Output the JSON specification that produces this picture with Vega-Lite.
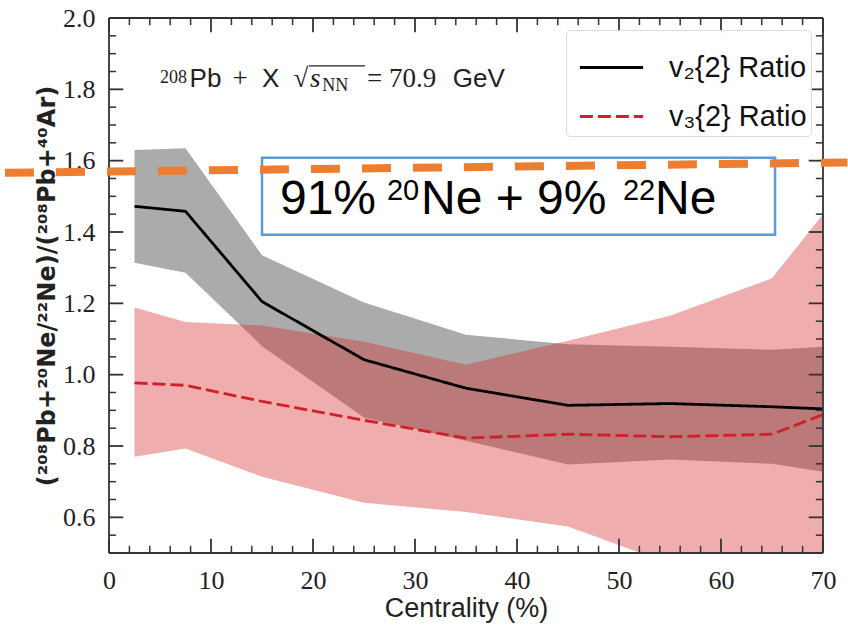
{
  "$schema": "https://vega.github.io/schema/vega-lite/v6.json",
  "width": 714,
  "height": 535,
  "autosize": "none",
  "padding": {"left": 109, "top": 18, "right": 25, "bottom": 78},
  "background": "white",
  "config": {
    "view": {"stroke": null},
    "axis": {
      "grid": false,
      "domain": false,
      "ticks": true,
      "tickSize": 0,
      "tickOpacity": 0,
      "labelFlush": false,
      "labelOverlap": false,
      "titleColor": "#222222",
      "titleFontWeight": "normal"
    },
    "legend": {
      "orient": "top-right",
      "offset": 12,
      "padding": 4,
      "strokeColor": "#dcdcdc",
      "fillColor": "rgba(255,255,255,0.85)",
      "cornerRadius": 4,
      "symbolType": "stroke",
      "symbolSize": 4000,
      "symbolOffset": 8,
      "symbolStrokeWidth": 2.8,
      "labelFont": "Liberation Sans",
      "labelFontSize": 29,
      "labelColor": "#111111",
      "labelOffset": 24,
      "rowPadding": -4,
      "labelLimit": 400
    }
  },
  "datasets": {
    "series": [
      {"series": "v₂{2} Ratio", "x": 2.5, "y": 1.472, "lo": 1.314, "hi": 1.630},
      {"series": "v₂{2} Ratio", "x": 7.5, "y": 1.458, "lo": 1.286, "hi": 1.635},
      {"series": "v₂{2} Ratio", "x": 15, "y": 1.205, "lo": 1.080, "hi": 1.335},
      {"series": "v₂{2} Ratio", "x": 25, "y": 1.042, "lo": 0.880, "hi": 1.202},
      {"series": "v₂{2} Ratio", "x": 35, "y": 0.962, "lo": 0.815, "hi": 1.112},
      {"series": "v₂{2} Ratio", "x": 45, "y": 0.914, "lo": 0.748, "hi": 1.085},
      {"series": "v₂{2} Ratio", "x": 55, "y": 0.919, "lo": 0.762, "hi": 1.078},
      {"series": "v₂{2} Ratio", "x": 65, "y": 0.910, "lo": 0.750, "hi": 1.070},
      {"series": "v₂{2} Ratio", "x": 70, "y": 0.904, "lo": 0.728, "hi": 1.078},
      {"series": "v₃{2} Ratio", "x": 2.5, "y": 0.977, "lo": 0.770, "hi": 1.188},
      {"series": "v₃{2} Ratio", "x": 7.5, "y": 0.970, "lo": 0.793, "hi": 1.148},
      {"series": "v₃{2} Ratio", "x": 15, "y": 0.925, "lo": 0.714, "hi": 1.138},
      {"series": "v₃{2} Ratio", "x": 25, "y": 0.872, "lo": 0.641, "hi": 1.092},
      {"series": "v₃{2} Ratio", "x": 35, "y": 0.822, "lo": 0.615, "hi": 1.028},
      {"series": "v₃{2} Ratio", "x": 45, "y": 0.833, "lo": 0.574, "hi": 1.095},
      {"series": "v₃{2} Ratio", "x": 55, "y": 0.826, "lo": 0.470, "hi": 1.165},
      {"series": "v₃{2} Ratio", "x": 65, "y": 0.833, "lo": 0.450, "hi": 1.270},
      {"series": "v₃{2} Ratio", "x": 70, "y": 0.888, "lo": 0.440, "hi": 1.450}
    ],
    "xmajor": [{"x": 0}, {"x": 10}, {"x": 20}, {"x": 30}, {"x": 40}, {"x": 50}, {"x": 60}, {"x": 70}],
    "xminor": [{"x": 2}, {"x": 4}, {"x": 6}, {"x": 8}, {"x": 12}, {"x": 14}, {"x": 16}, {"x": 18}, {"x": 22}, {"x": 24}, {"x": 26}, {"x": 28}, {"x": 32}, {"x": 34}, {"x": 36}, {"x": 38}, {"x": 42}, {"x": 44}, {"x": 46}, {"x": 48}, {"x": 52}, {"x": 54}, {"x": 56}, {"x": 58}, {"x": 62}, {"x": 64}, {"x": 66}, {"x": 68}],
    "ymajor": [{"y": 0.6}, {"y": 0.8}, {"y": 1.0}, {"y": 1.2}, {"y": 1.4}, {"y": 1.6}, {"y": 1.8}, {"y": 2.0}],
    "yminor": [{"y": 0.55}, {"y": 0.65}, {"y": 0.7}, {"y": 0.75}, {"y": 0.85}, {"y": 0.9}, {"y": 0.95}, {"y": 1.05}, {"y": 1.1}, {"y": 1.15}, {"y": 1.25}, {"y": 1.3}, {"y": 1.35}, {"y": 1.45}, {"y": 1.5}, {"y": 1.55}, {"y": 1.65}, {"y": 1.7}, {"y": 1.75}, {"y": 1.85}, {"y": 1.9}, {"y": 1.95}],
    "frameh": [{"y": 0.5}, {"y": 2.0}],
    "framev": [{"x": 0}, {"x": 70}],
    "orange": [
      {"x": -10.2, "y": 1.566},
      {"x": 72.4, "y": 1.595}
    ],
    "box": [
      {"x": 15.0, "x2": 65.3, "y": 1.608, "y2": 1.392}
    ],
    "radical": [
      {"x": 19.6, "x2": 25.1, "y": 1.866}
    ],
    "notes": [
      {"kind": "sup", "x": 5.0, "y": 1.818, "text": "208"},
      {"kind": "sans", "x": 7.9, "y": 1.807, "text": "Pb"},
      {"kind": "serif", "x": 12.1, "y": 1.807, "text": "+"},
      {"kind": "sans", "x": 15.0, "y": 1.807, "text": "X"},
      {"kind": "serif", "x": 18.1, "y": 1.807, "text": "√"},
      {"kind": "italic", "x": 19.7, "y": 1.807, "text": "s"},
      {"kind": "sub", "x": 20.9, "y": 1.795, "text": "NN"},
      {"kind": "serif", "x": 25.3, "y": 1.807, "text": "= 70.9"},
      {"kind": "sans", "x": 33.7, "y": 1.807, "text": "GeV"},
      {"kind": "big", "x": 16.76, "y": 1.451, "text": "91%"},
      {"kind": "bigsup", "x": 27.25, "y": 1.49, "text": "20"},
      {"kind": "big", "x": 30.59, "y": 1.451, "text": "Ne + 9%"},
      {"kind": "bigsup", "x": 50.39, "y": 1.49, "text": "22"},
      {"kind": "big", "x": 53.53, "y": 1.451, "text": "Ne"}
    ]
  },
  "resolve": {"axis": {"x": "independent", "y": "independent"}},
  "layer": [
    {
      "data": {"name": "series"},
      "transform": [{"filter": {"field": "series", "equal": "v₂{2} Ratio"}}],
      "mark": {"type": "area", "color": "#000000", "opacity": 0.33, "clip": true},
      "encoding": {
        "x": {
          "field": "x", "type": "quantitative",
          "scale": {"domain": [0, 70], "nice": false, "zero": false},
          "axis": {
            "orient": "bottom",
            "values": [0, 10, 20, 30, 40, 50, 60, 70],
            "format": "d",
            "labelPadding": 14,
            "labelFont": "Liberation Serif",
            "labelFontSize": 26,
            "labelColor": "#222222",
            "title": "Centrality (%)",
            "titleFont": "Liberation Sans",
            "titleFontSize": 27,
            "titlePadding": 2
          }
        },
        "y": {
          "field": "lo", "type": "quantitative",
          "scale": {"domain": [0.5, 2.0], "nice": false, "zero": false},
          "axis": {
            "orient": "left",
            "values": [0.6, 0.8, 1.0, 1.2, 1.4, 1.6, 1.8, 2.0],
            "format": ".1f",
            "labelPadding": 14,
            "labelFont": "Liberation Serif",
            "labelFontSize": 26,
            "labelColor": "#222222",
            "title": "(²⁰⁸Pb+²⁰Ne/²²Ne)/(²⁰⁸Pb+⁴⁰Ar)",
            "titleFont": "DejaVu Sans",
            "titleFontSize": 24,
            "titleFontWeight": "bold",
            "titlePadding": 3
          }
        },
        "y2": {"field": "hi"}
      }
    },
    {
      "data": {"name": "series"},
      "transform": [{"filter": {"field": "series", "equal": "v₃{2} Ratio"}}],
      "mark": {"type": "area", "color": "#d62728", "opacity": 0.38, "clip": true},
      "encoding": {
        "x": {"field": "x", "type": "quantitative", "axis": null},
        "y": {"field": "lo", "type": "quantitative", "axis": null},
        "y2": {"field": "hi"}
      }
    },
    {
      "data": {"name": "series"},
      "mark": {"type": "line", "strokeWidth": 2.8, "clip": true},
      "encoding": {
        "x": {"field": "x", "type": "quantitative", "axis": null},
        "y": {"field": "y", "type": "quantitative", "axis": null},
        "color": {
          "field": "series", "type": "nominal",
          "scale": {"domain": ["v₂{2} Ratio", "v₃{2} Ratio"], "range": ["#000000", "#d0202a"]},
          "legend": {"title": null}
        },
        "strokeDash": {
          "field": "series", "type": "nominal",
          "scale": {"domain": ["v₂{2} Ratio", "v₃{2} Ratio"], "range": [[1, 0], [13, 5]]},
          "legend": {"title": null}
        }
      }
    },
    {
      "data": {"name": "frameh"},
      "mark": {"type": "rule", "color": "#333333", "strokeWidth": 1.8},
      "encoding": {
        "y": {"field": "y", "type": "quantitative", "axis": null},
        "x": {"datum": 0, "type": "quantitative", "axis": null},
        "x2": {"datum": 70}
      }
    },
    {
      "data": {"name": "framev"},
      "mark": {"type": "rule", "color": "#333333", "strokeWidth": 1.8},
      "encoding": {
        "x": {"field": "x", "type": "quantitative", "axis": null},
        "y": {"datum": 0.5, "type": "quantitative", "axis": null},
        "y2": {"datum": 2.0}
      }
    },
    {
      "data": {"name": "xmajor"},
      "mark": {"type": "rule", "color": "#333333", "strokeWidth": 1.8},
      "encoding": {
        "x": {"field": "x", "type": "quantitative", "axis": null},
        "y": {"datum": 0.5, "type": "quantitative", "axis": null},
        "y2": {"datum": 0.54}
      }
    },
    {
      "data": {"name": "xmajor"},
      "mark": {"type": "rule", "color": "#333333", "strokeWidth": 1.8},
      "encoding": {
        "x": {"field": "x", "type": "quantitative", "axis": null},
        "y": {"datum": 1.96, "type": "quantitative", "axis": null},
        "y2": {"datum": 2.0}
      }
    },
    {
      "data": {"name": "xminor"},
      "mark": {"type": "rule", "color": "#333333", "strokeWidth": 1.5},
      "encoding": {
        "x": {"field": "x", "type": "quantitative", "axis": null},
        "y": {"datum": 0.5, "type": "quantitative", "axis": null},
        "y2": {"datum": 0.52}
      }
    },
    {
      "data": {"name": "xminor"},
      "mark": {"type": "rule", "color": "#333333", "strokeWidth": 1.5},
      "encoding": {
        "x": {"field": "x", "type": "quantitative", "axis": null},
        "y": {"datum": 1.98, "type": "quantitative", "axis": null},
        "y2": {"datum": 2.0}
      }
    },
    {
      "data": {"name": "ymajor"},
      "mark": {"type": "rule", "color": "#333333", "strokeWidth": 1.8},
      "encoding": {
        "y": {"field": "y", "type": "quantitative", "axis": null},
        "x": {"datum": 0, "type": "quantitative", "axis": null},
        "x2": {"datum": 1.4}
      }
    },
    {
      "data": {"name": "ymajor"},
      "mark": {"type": "rule", "color": "#333333", "strokeWidth": 1.8},
      "encoding": {
        "y": {"field": "y", "type": "quantitative", "axis": null},
        "x": {"datum": 68.6, "type": "quantitative", "axis": null},
        "x2": {"datum": 70}
      }
    },
    {
      "data": {"name": "yminor"},
      "mark": {"type": "rule", "color": "#333333", "strokeWidth": 1.5},
      "encoding": {
        "y": {"field": "y", "type": "quantitative", "axis": null},
        "x": {"datum": 0, "type": "quantitative", "axis": null},
        "x2": {"datum": 0.7}
      }
    },
    {
      "data": {"name": "yminor"},
      "mark": {"type": "rule", "color": "#333333", "strokeWidth": 1.5},
      "encoding": {
        "y": {"field": "y", "type": "quantitative", "axis": null},
        "x": {"datum": 69.3, "type": "quantitative", "axis": null},
        "x2": {"datum": 70}
      }
    },
    {
      "data": {"name": "box"},
      "mark": {"type": "rect", "fill": "white", "fillOpacity": 0, "stroke": "#5b9bd5", "strokeWidth": 2.5},
      "encoding": {
        "x": {"field": "x", "type": "quantitative", "axis": null},
        "x2": {"field": "x2"},
        "y": {"field": "y", "type": "quantitative", "axis": null},
        "y2": {"field": "y2"}
      }
    },
    {
      "data": {"name": "orange"},
      "mark": {"type": "line", "color": "#ed7d31", "strokeWidth": 8, "strokeDash": [29, 22], "strokeCap": "butt", "clip": false},
      "encoding": {
        "x": {"field": "x", "type": "quantitative", "axis": null},
        "y": {"field": "y", "type": "quantitative", "axis": null}
      }
    },
    {
      "data": {"name": "radical"},
      "mark": {"type": "rule", "color": "#222222", "strokeWidth": 1.2},
      "encoding": {
        "x": {"field": "x", "type": "quantitative", "axis": null},
        "x2": {"field": "x2"},
        "y": {"field": "y", "type": "quantitative", "axis": null}
      }
    },
    {
      "data": {"name": "notes"},
      "transform": [{"filter": {"field": "kind", "equal": "sans"}}],
      "mark": {"type": "text", "align": "left", "baseline": "alphabetic", "font": "Liberation Sans", "fontSize": 26, "color": "#222222"},
      "encoding": {
        "x": {"field": "x", "type": "quantitative", "axis": null},
        "y": {"field": "y", "type": "quantitative", "axis": null},
        "text": {"field": "text"}
      }
    },
    {
      "data": {"name": "notes"},
      "transform": [{"filter": {"field": "kind", "equal": "serif"}}],
      "mark": {"type": "text", "align": "left", "baseline": "alphabetic", "font": "Liberation Serif", "fontSize": 27, "color": "#222222"},
      "encoding": {
        "x": {"field": "x", "type": "quantitative", "axis": null},
        "y": {"field": "y", "type": "quantitative", "axis": null},
        "text": {"field": "text"}
      }
    },
    {
      "data": {"name": "notes"},
      "transform": [{"filter": {"field": "kind", "equal": "italic"}}],
      "mark": {"type": "text", "align": "left", "baseline": "alphabetic", "font": "Liberation Serif", "fontStyle": "italic", "fontSize": 27, "color": "#222222"},
      "encoding": {
        "x": {"field": "x", "type": "quantitative", "axis": null},
        "y": {"field": "y", "type": "quantitative", "axis": null},
        "text": {"field": "text"}
      }
    },
    {
      "data": {"name": "notes"},
      "transform": [{"filter": {"field": "kind", "oneOf": ["sup", "sub"]}}],
      "mark": {"type": "text", "align": "left", "baseline": "alphabetic", "font": "Liberation Serif", "fontSize": 18, "color": "#222222"},
      "encoding": {
        "x": {"field": "x", "type": "quantitative", "axis": null},
        "y": {"field": "y", "type": "quantitative", "axis": null},
        "text": {"field": "text"}
      }
    },
    {
      "data": {"name": "notes"},
      "transform": [{"filter": {"field": "kind", "equal": "big"}}],
      "mark": {"type": "text", "align": "left", "baseline": "alphabetic", "font": "Liberation Sans", "fontSize": 48, "color": "#000000"},
      "encoding": {
        "x": {"field": "x", "type": "quantitative", "axis": null},
        "y": {"field": "y", "type": "quantitative", "axis": null},
        "text": {"field": "text"}
      }
    },
    {
      "data": {"name": "notes"},
      "transform": [{"filter": {"field": "kind", "equal": "bigsup"}}],
      "mark": {"type": "text", "align": "left", "baseline": "alphabetic", "font": "Liberation Sans", "fontSize": 29, "color": "#000000"},
      "encoding": {
        "x": {"field": "x", "type": "quantitative", "axis": null},
        "y": {"field": "y", "type": "quantitative", "axis": null},
        "text": {"field": "text"}
      }
    }
  ]
}
